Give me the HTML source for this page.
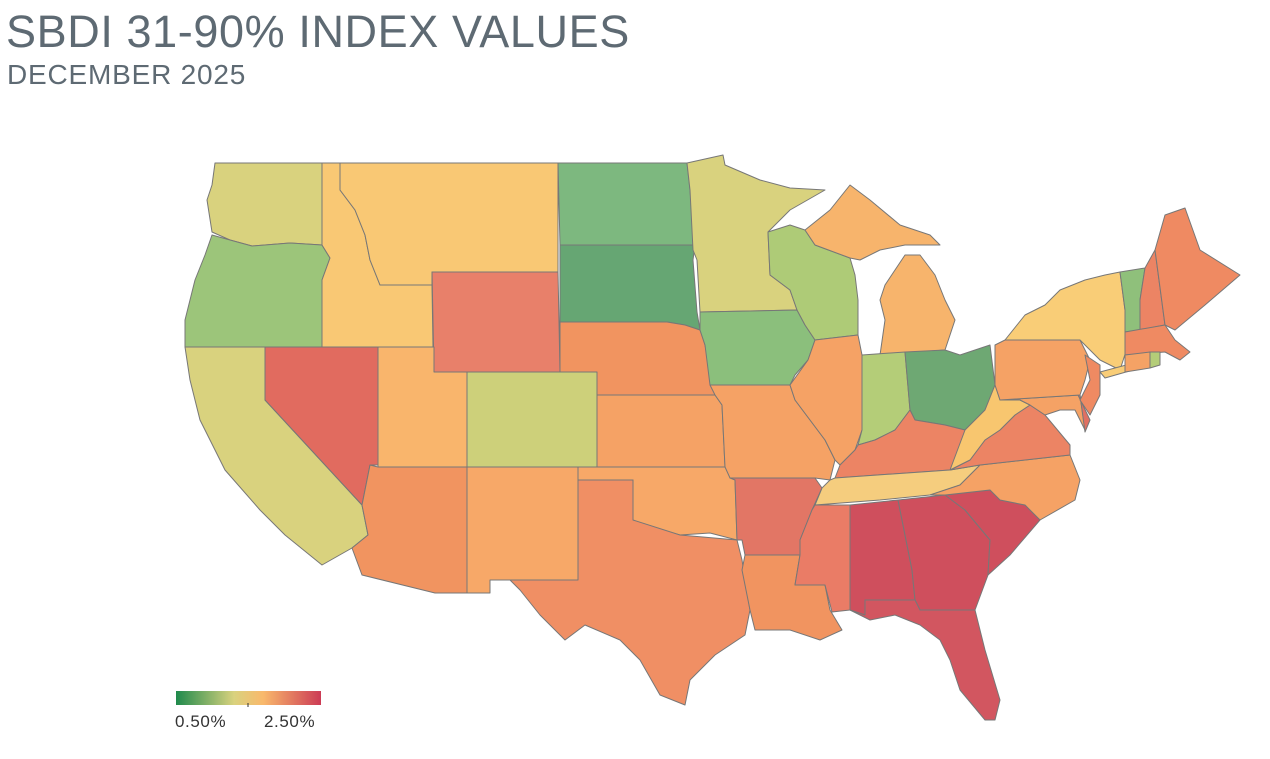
<!DOCTYPE html>
<html><head><meta charset="utf-8"><style>
body{margin:0;width:1270px;height:759px;background:#fff;overflow:hidden;font-family:"Liberation Sans",sans-serif}
.t{position:absolute;left:6px;top:6px;font-size:45px;color:#5e6a73;letter-spacing:0.6px}
.s{position:absolute;left:7px;top:59px;font-size:28px;color:#5e6a73;letter-spacing:0.8px}
svg{position:absolute;left:0;top:0}
</style></head><body>
<div class="t">SBDI 31-90% INDEX VALUES</div>
<div class="s">DECEMBER 2025</div>
<svg width="1270" height="759" viewBox="0 0 1270 759">
<defs><linearGradient id="g" x1="0" x2="1"><stop offset="0" stop-color="#1f8a4c"/><stop offset="0.4" stop-color="#d9d27e"/><stop offset="0.6" stop-color="#f9b96c"/><stop offset="1" stop-color="#cc3b55"/></linearGradient></defs>
<g stroke="#777" stroke-width="1" stroke-linejoin="round">
<polygon fill="#d9d27e" points="215,163 322,163 322,245 290,243 252,246 230,240 212,232 207,200 212,185"/>
<polygon fill="#9cc57a" points="212,235 230,240 252,246 290,243 322,245 330,258 322,280 322,347 185,347 185,320 195,280 205,255"/>
<polygon fill="#d9d27e" points="185,347 265,347 265,400 362,505 368,535 352,548 322,565 285,535 260,510 225,470 200,420 190,380"/>
<polygon fill="#e16b5f" points="265,347 378,347 378,465 370,465 365,490 362,505 265,400"/>
<polygon fill="#f9c874" points="322,163 340,163 340,190 355,210 365,235 370,260 380,285 432,285 433,347 378,347 322,347 322,280 330,258 322,245"/>
<polygon fill="#f9c874" points="340,163 558,163 558,272 432,272 432,285 380,285 370,260 365,235 355,210 340,190"/>
<polygon fill="#e8806a" points="432,272 558,272 560,372 434,372"/>
<polygon fill="#f9b56c" points="378,347 434,347 434,372 467,372 467,467 378,467"/>
<polygon fill="#cdd07a" points="467,372 597,372 597,467 467,467"/>
<polygon fill="#f19460" points="378,467 467,467 467,593 435,593 362,575 352,548 368,535 362,505 365,490 370,465"/>
<polygon fill="#f7a868" points="467,467 578,467 578,580 490,580 490,593 467,593"/>
<polygon fill="#7db87f" points="558,163 687,163 690,190 695,245 560,245"/>
<polygon fill="#66a673" points="560,245 695,245 693,260 697,312 700,330 685,325 667,322 560,322"/>
<polygon fill="#f19460" points="560,322 667,322 685,325 700,330 705,345 715,395 597,395 597,372 560,372"/>
<polygon fill="#f5a265" points="597,395 715,395 722,405 725,467 597,467"/>
<polygon fill="#f7a868" points="578,467 730,467 735,480 737,540 710,533 680,535 640,525 633,520 633,480 578,480"/>
<polygon fill="#f08f64" points="578,480 633,480 633,520 680,535 737,540 742,560 750,610 745,635 715,655 690,680 685,705 660,695 640,660 620,640 585,625 565,640 540,615 520,590 510,580 578,580"/>
<polygon fill="#d9d27e" points="687,163 723,155 725,165 760,180 790,188 825,190 790,210 768,232 770,275 790,290 797,310 700,312 697,260 693,250 690,190"/>
<polygon fill="#8bbf7c" points="700,312 797,310 805,325 815,340 808,360 795,375 790,385 710,385 705,345 700,330"/>
<polygon fill="#f5a265" points="710,385 790,385 795,400 810,420 825,440 835,460 830,480 815,478 730,478 725,467 722,405 715,395"/>
<polygon fill="#e27665" points="730,478 815,478 822,488 812,510 800,540 800,555 745,555 742,540 737,540 735,480"/>
<polygon fill="#f19460" points="745,555 800,555 795,585 825,585 830,610 842,630 820,640 790,630 755,630 750,610 742,570"/>
<polygon fill="#aecb77" points="768,232 790,225 805,230 815,245 850,258 855,275 858,300 858,335 815,340 805,325 797,310 790,290 770,275"/>
<polygon fill="#f5a265" points="815,340 858,335 862,355 862,430 855,450 840,465 835,460 825,440 810,420 795,400 790,385 808,360"/>
<polygon fill="#f7b46c" points="885,285 905,255 920,255 935,275 945,300 955,320 945,350 880,355 885,320 880,300"/>
<polygon fill="#f7b46c" points="805,230 830,210 850,185 870,200 900,225 930,235 940,245 905,245 880,250 860,260 850,258 815,245"/>
<polygon fill="#b4cd78" points="862,355 905,352 910,410 895,430 875,440 858,445 862,430"/>
<polygon fill="#6ea873" points="905,352 945,350 960,355 990,345 995,385 985,410 965,430 945,425 915,420 910,410"/>
<polygon fill="#ec8464" points="858,445 875,440 895,430 910,410 915,420 945,425 965,430 985,440 970,460 950,470 835,478 840,465 855,450"/>
<polygon fill="#f5cd7e" points="830,480 835,478 950,470 980,465 960,485 930,495 880,500 815,505 822,488"/>
<polygon fill="#ea7c66" points="800,540 812,510 815,505 850,505 850,610 832,612 825,585 795,585 800,555"/>
<polygon fill="#cf4f5d" points="850,505 898,500 912,570 915,600 865,600 865,615 850,610"/>
<polygon fill="#cf4f5d" points="898,500 945,495 965,510 990,540 988,575 975,610 920,610 915,600 912,570"/>
<polygon fill="#d25660" points="850,610 865,615 865,600 915,600 920,610 975,610 985,650 1000,700 995,720 985,720 960,690 950,660 940,640 920,625 895,615 870,620"/>
<polygon fill="#cf4f5d" points="945,495 990,490 1000,500 1025,505 1040,520 1010,555 988,575 990,540 965,510"/>
<polygon fill="#f5a265" points="930,495 960,485 980,465 1070,455 1080,480 1075,500 1040,520 1025,505 1000,500 990,490 945,495"/>
<polygon fill="#ec8464" points="950,470 970,460 985,440 1000,430 1015,415 1030,405 1045,415 1070,445 1070,455 980,465"/>
<polygon fill="#f8c66f" points="965,430 985,410 995,385 1000,400 1020,400 1030,405 1015,415 1000,430 985,440 970,460 950,470"/>
<polygon fill="#f5a265" points="1000,400 1080,395 1085,430 1075,410 1060,410 1045,415 1030,405 1020,400"/>
<polygon fill="#e07062" points="1078,395 1090,420 1085,432 1080,395"/>
<polygon fill="#f5a265" points="995,345 1005,340 1080,340 1090,360 1085,380 1080,395 1000,400 995,385"/>
<polygon fill="#ef8a62" points="1085,355 1100,365 1100,395 1090,415 1080,400 1090,380"/>
<polygon fill="#f9cd77" points="1005,340 1025,315 1045,305 1060,290 1085,280 1105,275 1120,272 1125,310 1128,345 1120,370 1100,360 1090,350 1080,340"/>
<polygon fill="#f9cd77" points="1100,372 1145,360 1140,368 1105,378"/>
<polygon fill="#8fc07b" points="1120,272 1145,268 1140,300 1140,330 1125,332 1125,310"/>
<polygon fill="#ec8464" points="1145,268 1155,250 1165,325 1140,330 1140,300"/>
<polygon fill="#ef8a62" points="1155,250 1165,215 1185,208 1200,250 1240,275 1205,305 1175,330 1165,325"/>
<polygon fill="#ef8a62" points="1125,332 1165,325 1175,340 1190,352 1180,360 1165,352 1125,355"/>
<polygon fill="#f5a265" points="1125,355 1150,352 1150,368 1125,372"/>
<polygon fill="#b4cd78" points="1150,352 1160,352 1160,365 1150,368"/>
</g>
<rect x="176" y="691" width="145" height="14" fill="url(#g)"/>
<line x1="248" y1="703" x2="248" y2="707" stroke="#333"/>
<text x="175" y="727" font-size="17" fill="#333" font-family="Liberation Sans, sans-serif" letter-spacing="0.6">0.50%</text>
<text x="264" y="727" font-size="17" fill="#333" font-family="Liberation Sans, sans-serif" letter-spacing="0.6">2.50%</text>
</svg>
</body></html>
